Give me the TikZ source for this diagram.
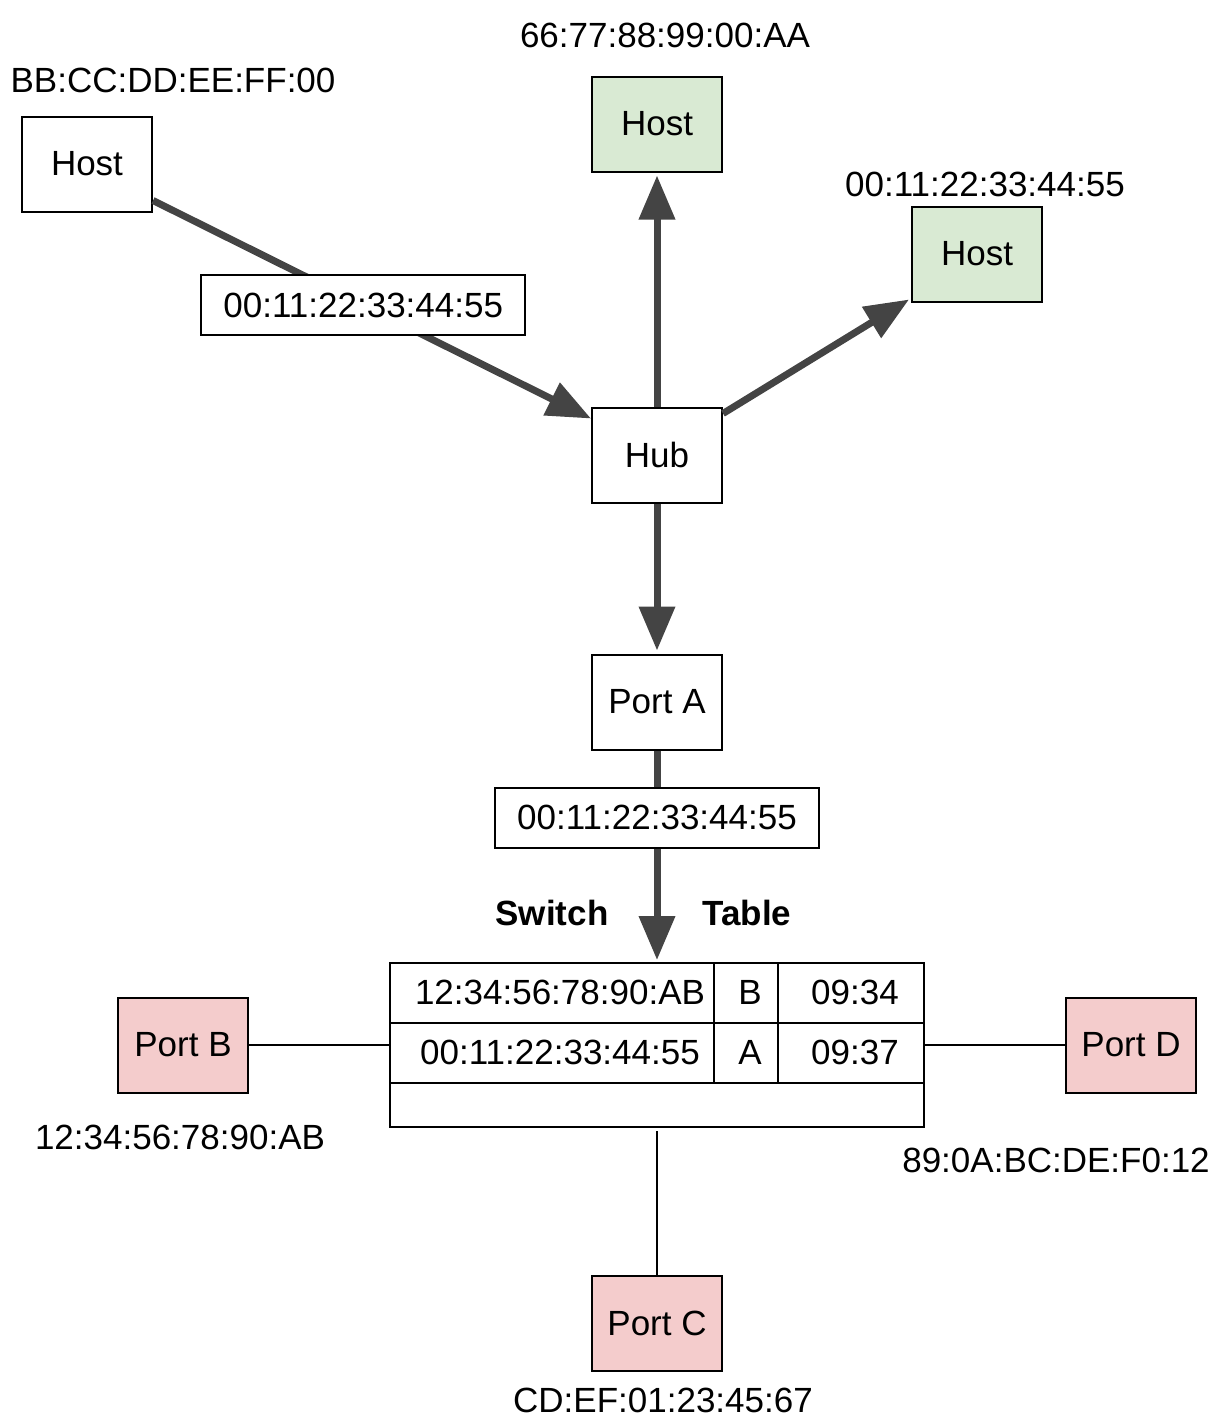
\documentclass[tikz,border=0pt]{standalone}
\usepackage{fontspec}
\setmainfont{Liberation Sans}
\usetikzlibrary{arrows.meta}
\definecolor{hostgreen}{HTML}{D9EAD3}
\definecolor{portred}{HTML}{F4CCCC}
\definecolor{wire}{HTML}{444444}

\begin{document}
\begin{tikzpicture}[x=0.5pt, y=-0.5pt,
	every node/.style={font=\fontsize{17.5}{21}\selectfont, inner sep=0pt},
	box/.style={draw, line width=1pt, minimum width=65pt, minimum height=47.5pt},
	tag/.style={draw=black, text=black, fill=white, line width=1pt, minimum width=162pt, minimum height=30pt},
	flow/.style={wire, line width=3.5pt, -{Triangle[length=22pt, width=17.5pt]}},
	link/.style={line width=1pt}]
	\useasboundingbox (0,0) rectangle (1217,1420);
	% hosts and hub
	\node[box] (h1) at (87,164) {Host};
	\node[box, fill=hostgreen] (h2) at (657,124) {Host};
	\node[box, fill=hostgreen] (h3) at (977,254) {Host};
	\node[box] (hub) at (657,455) {Hub};
	\node (m1) at (173,80) {BB:CC:DD:EE:FF:00};
	\node (m2) at (665,35) {66:77:88:99:00:AA};
	\node (m3) at (985,184) {00:11:22:33:44:55};
	\draw[flow] ([yshift=6pt]h1.south east) -- ([yshift=-6pt]hub.north west) node[tag, pos=0.48] (f1) {00:11:22:33:44:55};
	\draw[flow] (hub.north) -- ([yshift=-1.5pt]h2.south);
	\draw[flow] ([yshift=-3.5pt]hub.north east) -- ([yshift=1.5pt,xshift=-1pt]h3.south west);
	% switch
	\node[box] (pa) at (657,702) {Port A};
	\draw[flow] (hub.south) -- ([yshift=1.5pt]pa.north);
	\node[draw, line width=1pt, minimum width=267pt, minimum height=82pt] (tbl) at (657,1045) {};
	\draw[link] (390,1023) -- (924,1023) (390,1083) -- (924,1083);
	\draw[link] (714,963) -- (714,1083) (778,963) -- (778,1083);
	\node (r1a) at (560,992) {12:34:56:78:90:AB};
	\node (r1b) at (750,992) {B};
	\node (r1c) at (855,992) {09:34};
	\node (r2a) at (560,1052) {00:11:22:33:44:55};
	\node (r2b) at (750,1052) {A};
	\node (r2c) at (855,1052) {09:37};
	\node[font=\fontsize{17.5}{21}\selectfont\bfseries] (sw) at (552,913) {Switch};
	\node[font=\fontsize{17.5}{21}\selectfont\bfseries] (tb) at (747,913) {Table};
	\draw[flow] (pa.south) -- ([yshift=1pt]tbl.north) node[tag, pos=0.32] (f2) {00:11:22:33:44:55};
	% ports
	\node[box, fill=portred] (pb) at (183,1045) {Port B};
	\node[box, fill=portred] (pd) at (1131,1045) {Port D};
	\node[box, fill=portred] (pc) at (657,1323) {Port C};
	\node (mb) at (180,1137) {12:34:56:78:90:AB};
	\node (md) at (1056,1160) {89:0A:BC:DE:F0:12};
	\node (mc) at (663,1400) {CD:EF:01:23:45:67};
	\draw[link] (pb.east) -- (tbl.west);
	\draw[link] (tbl.east) -- (pd.west);
	\draw[link] (pc.north) -- ([yshift=-1.5pt]tbl.south);
\end{tikzpicture}
\end{document}
